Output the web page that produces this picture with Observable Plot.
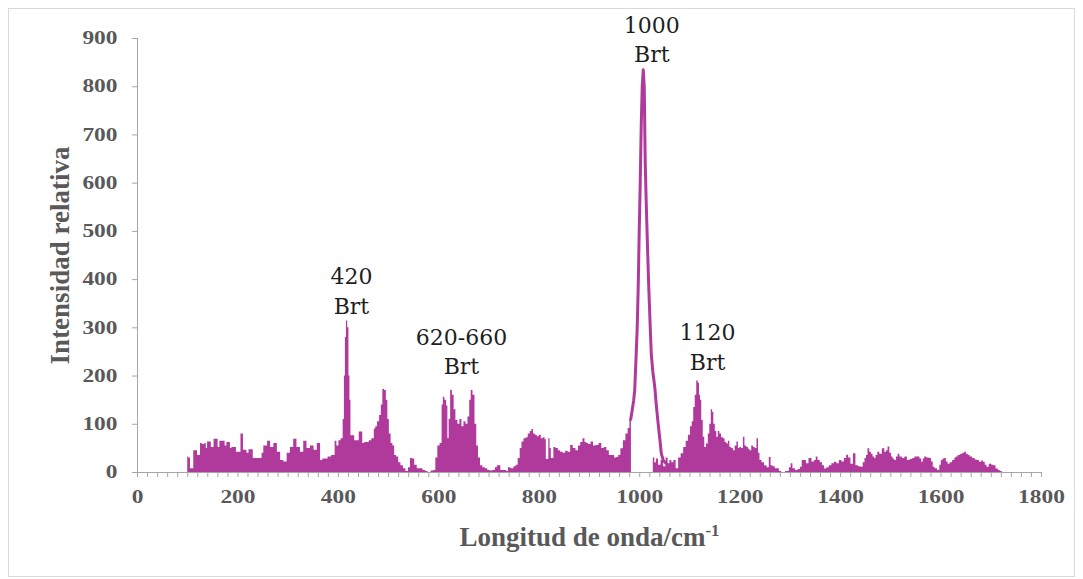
<!DOCTYPE html>
<html><head><meta charset="utf-8">
<script src="https://cdn.jsdelivr.net/npm/d3@7"></script>
<script src="https://cdn.jsdelivr.net/npm/@observablehq/plot@0.6"></script>
<style>
html,body{margin:0;padding:0;background:#fff;}
#wrap{position:relative;width:1083px;height:579px;overflow:hidden;}
#frame{position:absolute;left:8px;top:8px;width:1067px;height:569px;border:1px solid #d9d9d9;box-sizing:border-box;pointer-events:none;}
#chart{position:absolute;left:0;top:0;}
</style></head><body><div id="wrap"><div id="chart"></div><div id="frame"></div></div>
<script>
// Raman spectrum (wavenumber, cm-1) and relative intensity
const wavenumber = [100,104,107,111,113,118,121,125,126,132,136,138,141,146,148,152,153,159,162,166,173,176,180,184,186,190,195,199,205,207,210,212,216,220,224,228,233,246,250,253,258,260,264,266,270,273,277,280,284,286,290,293,297,299,303,306,310,312,316,319,323,326,330,332,336,339,343,346,350,353,357,359,363,366,372,378,381,385,388,392,395,399,403,408,411,413,415,417,420,422,424,426,431,434,440,443,447,450,455,460,463,470,473,476,480,484,487,490,494,497,500,503,507,510,514,518,522,527,532,537,542,545,550,554,560,566,571,576,581,588,592,596,600,605,608,610,614,617,619,622,625,629,632,636,640,644,648,652,656,660,663,666,670,674,677,681,685,690,695,700,705,710,715,718,722,725,733,737,740,747,752,756,760,764,767,772,776,780,784,787,790,794,798,802,806,810,813,815,818,820,823,825,828,830,836,840,845,850,855,860,865,870,876,880,885,889,893,896,900,906,910,916,922,927,932,937,942,948,952,956,960,965,970,975,979,982,985,1026,1028,1032,1035,1040,1045,1050,1055,1058,1062,1066,1070,1075,1080,1085,1090,1095,1099,1103,1106,1109,1112,1115,1118,1120,1122,1125,1128,1131,1135,1138,1141,1144,1146,1149,1152,1155,1158,1161,1165,1168,1172,1175,1178,1181,1185,1188,1192,1195,1198,1201,1205,1208,1211,1215,1218,1221,1225,1228,1232,1235,1238,1241,1246,1251,1256,1260,1263,1268,1272,1276,1280,1285,1296,1300,1303,1307,1313,1318,1322,1325,1330,1334,1340,1346,1350,1353,1357,1362,1366,1370,1375,1380,1385,1390,1395,1400,1405,1410,1414,1418,1423,1428,1433,1438,1443,1447,1450,1453,1456,1460,1463,1466,1469,1472,1476,1480,1486,1490,1493,1496,1500,1503,1506,1509,1513,1516,1520,1526,1530,1536,1541,1546,1550,1556,1560,1563,1566,1569,1574,1579,1583,1586,1590,1596,1599,1602,1606,1609,1612,1616,1620,1626,1629,1632,1636,1642,1645,1649,1652,1656,1660,1666,1670,1674,1679,1683,1686,1690,1693,1699,1703,1707,1712,1716,1720,1724];
const intensity = [32,30,8,8,45,45,35,35,60,58,60,50,63,63,52,52,69,69,52,65,65,55,62,62,50,52,52,42,42,80,80,46,46,40,47,47,29,29,40,55,55,65,65,52,52,60,60,42,42,25,25,22,22,40,40,52,52,69,69,52,52,42,42,65,65,50,50,55,55,46,46,60,60,25,28,28,32,32,35,35,65,55,66,70,110,200,280,314,300,200,150,76,76,66,66,84,84,60,62,62,66,70,90,95,105,118,140,172,170,150,110,80,60,55,35,32,20,14,8,2,10,29,28,15,8,8,4,2,0,3,4,30,55,60,140,156,150,138,70,110,170,160,130,108,100,110,95,105,100,115,150,170,160,100,55,30,14,10,8,4,3,4,10,14,14,4,4,2,10,8,12,15,29,50,63,70,72,80,85,89,80,77,74,77,70,72,68,27,27,70,50,29,29,52,50,45,42,40,44,42,56,50,45,55,62,70,62,60,58,63,55,56,60,50,52,45,35,35,30,31,35,49,66,80,91,110,0,0,30,20,28,15,25,12,30,18,25,20,25,8,30,39,52,65,77,95,105,135,160,190,185,160,150,108,73,52,59,80,100,130,125,100,85,73,85,80,72,70,62,59,65,52,50,45,55,63,50,52,50,73,55,52,48,45,55,52,50,70,40,25,20,14,10,31,14,12,8,8,2,0,2,10,18,8,4,6,11,25,25,18,29,22,25,32,25,20,14,7,10,14,18,21,18,25,22,29,36,30,17,39,14,12,11,20,29,35,49,42,38,32,29,35,42,38,49,42,45,53,40,32,28,25,32,38,32,29,32,25,27,29,32,32,28,21,28,32,30,29,22,11,8,4,15,25,28,29,22,17,20,25,30,32,35,38,40,42,38,35,32,29,26,25,21,24,21,15,11,17,15,14,7,4,2,0];
// main band near 1000 cm-1 drawn as a line
const peakX = [982,985,988,990,993,995,997,999,1001,1003,1005,1007,1009,1010,1011,1013,1016,1018,1021,1023,1026,1030,1033,1036,1040,1043,1047,1053];
const peakY = [110,129,150,170,246,300,384,500,600,720,800,835,800,720,640,558,450,384,300,246,210,177,140,108,70,39,25,18];
// band annotations (two lines each)
const labelTop = ["420", "620-660", "1000", "1120"];
const labelBottom = ["Brt", "Brt", "Brt", "Brt"];
const labelX = [426, 645, 1024, 1135];
const labelTopY = [406, 280, 927, 290];
const labelBottomY = [344, 218, 865, 228];
// axis ticks
const xTicks = [0,200,400,600,800,1000,1200,1400,1600,1800];
const xMinorTicks = d3.range(0, 1801, 20);
const yTicks = [0,100,200,300,400,500,600,700,800,900];

const color = "#b03a9c";
const spectrum = wavenumber.map((x, i) => ({x, y: intensity[i]}));
const peak = peakX.map((x, i) => ({x, y: peakY[i]}));
const labels = labelTop.flatMap((t, i) => [
  {t, x: labelX[i], y: labelTopY[i]},
  {t: labelBottom[i], x: labelX[i], y: labelBottomY[i]}
]);

const chart = Plot.plot({
  width: 1083, height: 579,
  marginLeft: 137, marginRight: 42, marginTop: 38, marginBottom: 107,
  x: {domain: [0, 1800]},
  y: {domain: [0, 900]},
  style: {background: "transparent", fontFamily: "'Liberation Serif', serif", overflow: "visible"},
  marks: [
    Plot.areaY(spectrum, {x: "x", y: "y", curve: "step", fill: color}),
    Plot.line(peak, {x: "x", y: "y", stroke: color, strokeWidth: 3, curve: "linear"}),
    Plot.ruleY([0], {stroke: "#a6a6a6", strokeWidth: 1}),
    Plot.ruleX([0], {stroke: "#a6a6a6", strokeWidth: 1}),
    Plot.axisX({ticks: xMinorTicks, tickSize: 5, tickFormat: () => "", stroke: "#a6a6a6", label: null}),
    Plot.axisX({ticks: xTicks, tickSize: 0, tickPadding: 18, tickFormat: d => String(d), fontSize: 18, fontWeight: "bold", fill: "#595959", label: null}),
    Plot.axisY({ticks: yTicks, tickSize: 5, tickPadding: 15, tickFormat: d => String(d), fontSize: 18, fontWeight: "bold", fill: "#595959", stroke: "#a6a6a6", label: null}),
    Plot.text(labels, {x: "x", y: "y", text: "t", fontSize: 22, fill: "#1f1f1f", className: "annot"}),
    Plot.text(["Longitud de onda/cm"], {frameAnchor: "bottom", dy: 73, fontSize: 27, fontWeight: "bold", fill: "#595959", className: "xtitle"}),
    Plot.text(["Intensidad relativa"], {frameAnchor: "left", textAnchor: "middle", dx: -77, rotate: -90, fontSize: 27, fontWeight: "bold", fill: "#595959"})
  ]
});

d3.select(chart).selectAll(".annot text").style("font-family", "'DejaVu Serif', serif").style("font-weight", "400");
// superscript on the x title
d3.select(chart).selectAll(".xtitle text").each(function() {
  d3.select(this).append("tspan").attr("dy", "-0.55em").attr("font-size", "0.62em").text("-1");
});
// tick labels are horizontally wide in the original
d3.select(chart).selectAll("g[aria-label='x-axis tick label'] text, g[aria-label='y-axis tick label'] text").each(function() {
  const tr = this.getAttribute("transform") || "";
  this.setAttribute("transform", tr + " scale(1.3,1)");
});
document.getElementById("chart").appendChild(chart);
</script>
</body></html>
